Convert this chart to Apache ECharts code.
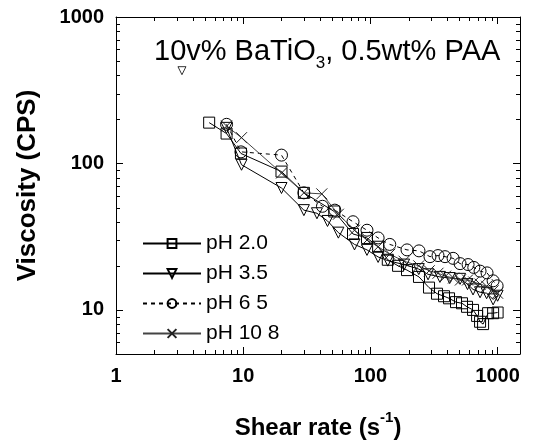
<!DOCTYPE html>
<html>
<head>
<meta charset="utf-8">
<script src="https://cdn.jsdelivr.net/npm/echarts@6/dist/echarts.min.js"></script>
<style>
html,body{margin:0;padding:0;background:#fff;}
#chart{width:534px;height:445px;}
</style>
</head>
<body>
<div id="chart"></div>
<script>
// ---- data ----
var seriesNames = ['pH 2.0', 'pH 3.5', 'pH 6 5', 'pH 10 8'];

var xPH20 = [5.4, 7.4, 9.6, 20, 30, 52, 73, 94, 115, 137, 165, 194, 241, 289, 334, 379, 415, 471, 525, 575, 641, 690, 728, 769, 842, 922, 1000];
var yPH20 = [190, 160, 117, 88, 63, 47, 33, 31, 27, 22, 20, 18.7, 16.8, 14.2, 12.9, 12.4, 12.0, 11.3, 11.1, 10.5, 10.0, 9.1, 8.3, 8.0, 9.5, 9.5, 9.6];

var xPH35 = [7.4, 9.7, 20, 30, 38, 46, 56, 75, 94, 115, 137, 184, 240, 284, 352, 420, 507, 580, 641, 728, 820, 922, 1000];
var yPH35 = [175, 98, 68, 48, 45.7, 40.5, 33.7, 28, 25.7, 23, 21.7, 20.4, 19, 17.5, 16.8, 16.5, 16.3, 15, 13.8, 13.2, 13, 11.8, 12.5];

var xPH35Stray = [3.3];
var yPH35Stray = [430];

var xPH65 = [7.4, 9.6, 20, 30, 42, 52.5, 73, 94, 115, 142, 194, 241, 294, 340, 386, 447, 507, 586, 650, 728, 826, 922, 991];
var yPH65 = [185, 120, 114, 63, 51, 48, 40, 35, 31, 28, 25.7, 25.3, 23.1, 23.5, 23.1, 22.5, 20.7, 20.4, 19.5, 18.4, 17.9, 15.8, 14.6];

var xPH108 = [7.4, 9.7, 20, 30, 41.5, 56, 75, 94, 115, 142, 184, 240, 290, 340, 390, 450, 510, 580, 650, 728, 820, 922, 1000];
var yPH108 = [180, 150, 86, 63, 62, 45, 35, 30, 27, 24, 21.5, 20, 18.5, 17.8, 17, 16.5, 16, 16, 15.5, 15, 14.5, 13.5, 13];

var xMinorTicks = [2,3,4,5,6,7,8,9,20,30,40,50,60,70,80,90,200,300,400,500,600,700,800,900];
var yMinorTicks = [6,7,8,9,20,30,40,50,60,70,80,90,200,300,400,500,600,700,800,900];

function zip(xs, ys) { return xs.map(function (x, i) { return [x, ys[i]]; }); }

// ---- chart ----
var chart = echarts.init(document.getElementById('chart'), null, {renderer: 'canvas'});
var FONT = 'Liberation Sans, Arial, sans-serif';
var XMIN = 1, XMAX = 1500, YMIN = 5, YMAX = 1000;
var MINOR_LEN = 4;
var TICK_COLOR = '#000';

function fmt(v) {
  var l = Math.log(v) / Math.LN10;
  return Math.abs(l - Math.round(l)) < 1e-6 ? String(Math.round(v)) : '';
}

function xAxisDef(pos, showLabel) {
  return {
    type: 'log', logBase: 10, min: XMIN, max: XMAX, position: pos, gridIndex: 0,
    axisLine: {show: true, lineStyle: {color: '#000', width: 1}},
    axisTick: {show: true, inside: true, length: 7, lineStyle: {color: TICK_COLOR, width: 1}},
    axisLabel: {show: showLabel, formatter: fmt, margin: 12, color: '#000', fontFamily: FONT, fontWeight: 'bold', fontSize: 20},
    splitLine: {show: false},
    name: showLabel ? '{a|Shear rate (s}{s|-1}{a|)}' : '',
    nameLocation: 'middle', nameGap: 56,
    nameTextStyle: {rich: {
      a: {fontFamily: FONT, fontWeight: 'bold', fontSize: 24, color: '#000', lineHeight: 30, verticalAlign: 'bottom'},
      s: {fontFamily: FONT, fontWeight: 'bold', fontSize: 15, color: '#000', lineHeight: 30, verticalAlign: 'top'}
    }}
  };
}
function yAxisDef(pos, showLabel) {
  return {
    type: 'log', logBase: 10, min: YMIN, max: YMAX, position: pos, gridIndex: 0,
    axisLine: {show: true, lineStyle: {color: '#000', width: 1}},
    axisTick: {show: true, inside: true, length: 7, lineStyle: {color: TICK_COLOR, width: 1}},
    axisLabel: {show: showLabel, formatter: fmt, margin: 12, color: '#000', fontFamily: FONT, fontWeight: 'bold', fontSize: 20},
    splitLine: {show: false},
    name: showLabel ? 'Viscosity (CPS)' : '',
    nameLocation: 'middle', nameGap: 75,
    nameTextStyle: {fontFamily: FONT, fontWeight: 'bold', fontSize: 26, color: '#000'}
  };
}

var NOFILL = 'rgba(0,0,0,0)';
function lineSeries(name, data, symbol, size, rotate, lineStyle, stroke) {
  return {
    name: name, type: 'line', xAxisIndex: 0, yAxisIndex: 0,
    data: data, symbol: symbol, symbolSize: size, symbolRotate: rotate,
    showAllSymbol: true, animation: false, z: 3,
    lineStyle: lineStyle,
    itemStyle: {color: NOFILL, borderColor: stroke, borderWidth: 1},
    emphasis: {disabled: true}
  };
}

function minorXTicks(params, api) {
  var v = api.value(0);
  var pb = api.coord([v, YMIN]);
  var pt = api.coord([v, YMAX]);
  var x = Math.round(pb[0]) + 0.5;
  return {type: 'group', children: [
    {type: 'line', shape: {x1: x, y1: pb[1], x2: x, y2: pb[1] - MINOR_LEN}, style: {stroke: TICK_COLOR, lineWidth: 1}},
    {type: 'line', shape: {x1: x, y1: pt[1], x2: x, y2: pt[1] + MINOR_LEN}, style: {stroke: TICK_COLOR, lineWidth: 1}}
  ]};
}
function minorYTicks(params, api) {
  var v = api.value(1);
  var pl = api.coord([XMIN, v]);
  var pr = api.coord([XMAX, v]);
  var y = Math.round(pl[1]) + 0.5;
  return {type: 'group', children: [
    {type: 'line', shape: {x1: pl[0], y1: y, x2: pl[0] + MINOR_LEN, y2: y}, style: {stroke: TICK_COLOR, lineWidth: 1}},
    {type: 'line', shape: {x1: pr[0], y1: y, x2: pr[0] - MINOR_LEN, y2: y}, style: {stroke: TICK_COLOR, lineWidth: 1}}
  ]};
}

var option = {
  backgroundColor: '#fff',
  animation: false,
  grid: {left: 116, top: 17, right: 14, bottom: 79},
  xAxis: [xAxisDef('bottom', true), xAxisDef('top', false)],
  yAxis: [yAxisDef('left', true), yAxisDef('right', false)],
  legend: {
    orient: 'vertical', left: 142, top: 233, padding: 0,
    itemWidth: 58, itemHeight: 11, itemGap: 9,
    textStyle: {fontFamily: FONT, fontSize: 21, color: '#000', lineHeight: 21},
    data: seriesNames, selectedMode: false
  },
  graphic: [{
    type: 'text', left: 154, top: 37,
    style: {
      text: '{a|10v% BaTiO}{s|3}{a|, 0.5wt% PAA}',
      rich: {
        a: {fontFamily: FONT, fontSize: 29, fill: '#000', lineHeight: 32, verticalAlign: 'bottom'},
        s: {fontFamily: FONT, fontSize: 17, fill: '#000', lineHeight: 32, verticalAlign: 'bottom', padding: [0, 0, -6, 0]}
      }
    }
  }],
  series: [
    lineSeries(seriesNames[0], zip(xPH20, yPH20), 'rect', 11, 0, {color: '#000', width: 1, type: 'solid'}, '#000'),
    lineSeries(seriesNames[1], zip(xPH35, yPH35), 'triangle', 11, 180, {color: '#000', width: 1, type: 'solid'}, '#000'),
    lineSeries(seriesNames[2], zip(xPH65, yPH65), 'circle', 12, 0, {color: '#000', width: 1, type: [4, 4]}, '#000'),
    lineSeries(seriesNames[3], zip(xPH108, yPH108), 'path://M0,0L10,10M10,0L0,10', 11, 0, {color: '#444', width: 1, type: 'solid'}, '#222'),
    {
      name: 'stray', type: 'scatter', data: zip(xPH35Stray, yPH35Stray),
      symbol: 'triangle', symbolRotate: 180, symbolSize: 8,
      itemStyle: {color: NOFILL, borderColor: '#000', borderWidth: 1}, animation: false
    },
    {
      name: 'xminor', type: 'custom', renderItem: minorXTicks, clip: false, animation: false,
      data: xMinorTicks.map(function (v) { return [v, YMIN]; })
    },
    {
      name: 'yminor', type: 'custom', renderItem: minorYTicks, clip: false, animation: false,
      data: yMinorTicks.map(function (v) { return [XMIN, v]; })
    }
  ]
};
chart.setOption(option);
</script>
</body>
</html>
